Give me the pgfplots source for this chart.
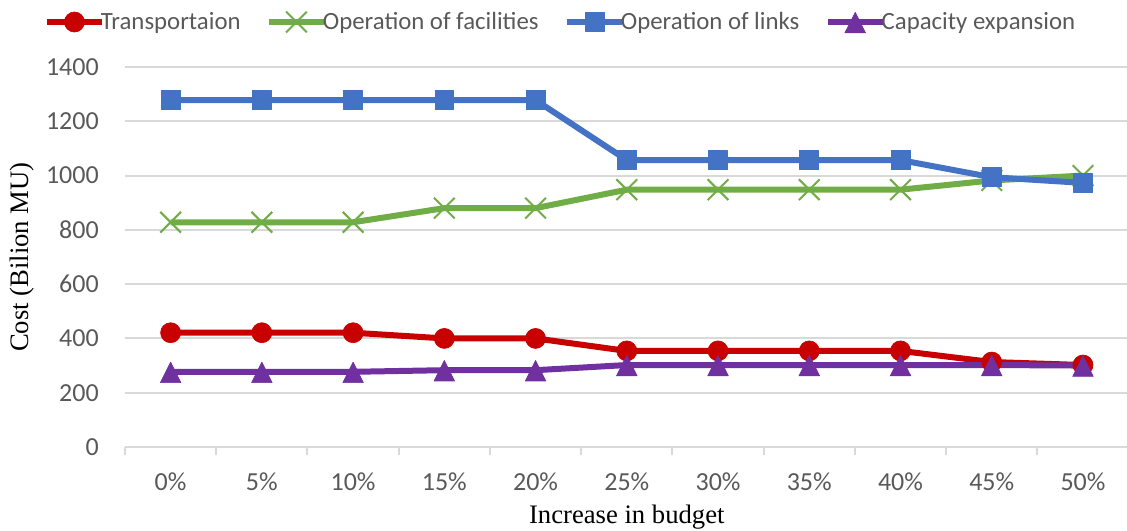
\documentclass[border=0pt]{standalone}
\usepackage{fontspec}
\setmainfont{Liberation Serif}
\newfontfamily\calibri{Carlito}
\usepackage{pgfplots}
\pgfplotsset{compat=1.18}

\definecolor{cRed}{HTML}{C80000}
\definecolor{cGreen}{HTML}{70AD47}
\definecolor{cBlue}{HTML}{4472C4}
\definecolor{cPurple}{HTML}{7030A0}
\definecolor{gridgray}{HTML}{D9D9D9}
\definecolor{tickgray}{HTML}{595959}

\begin{document}
\begin{tikzpicture}[x=1pt,y=1pt]
\useasboundingbox (0,0) rectangle (845.25,398.25);
\begin{axis}[
  at={(93.75pt,63pt)}, anchor=south west,
  scale only axis, width=752.7pt, height=285pt,
  xmin=-0.5, xmax=10.5, ymin=0, ymax=1400,
  ytick={0,200,...,1400},
  xtick={0,...,10},
  xticklabels={0\%,5\%,10\%,15\%,20\%,25\%,30\%,35\%,40\%,45\%,50\%},
  minor xtick={-0.5,0.5,...,10.5},
  xtick pos=bottom, ytick pos=left,
  tick align=outside,
  major tick length=0pt,
  minor tick length=6pt,
  minor x tick style={draw=gridgray, line width=1.5pt},
  axis line style={draw=none},
  ymajorgrids,
  major grid style={draw=gridgray, line width=1.5pt},
  /pgf/number format/assume math mode=true,
  /pgf/number format/1000 sep={},
  yticklabel style={font=\calibri\fontsize{19.5}{20}\selectfont, text=tickgray,
    anchor=east, inner sep=0pt, xshift=-19.5pt},
  xticklabel style={font=\calibri\fontsize{19.5}{20}\selectfont, text=tickgray,
    anchor=center, inner sep=0pt, yshift=-26pt},
  xlabel={Increase in budget},
  xlabel style={at={(axis description cs:0.5,-0.184)}, anchor=center,
    font=\fontsize{20}{22}\selectfont},
  ylabel={Cost (Bilion MU)},
  ylabel style={at={(axis description cs:-0.1026,0.5)}, anchor=center,
    font=\fontsize{20}{22}\selectfont},
  legend columns=4,
  legend style={at={(axis description cs:-0.081,1.1184)}, anchor=west,
    draw=none, fill=none, inner sep=0pt,
    font=\calibri\fontsize{18.6}{20}\selectfont, text=tickgray,
    nodes={inner sep=1pt},
    /tikz/every odd column/.append style={column sep=-4pt},
    /tikz/every even column/.append style={column sep=18pt}},
  legend image code/.code={%
    \draw[mark repeat=2,mark phase=2] plot coordinates {(0pt,0pt)(20.6pt,0pt)(41.2pt,0pt)};},
  every axis plot/.append style={line width=4.5pt, line join=round},
]
% Transportation cost
\addplot[cRed, mark=*, mark size=7.5pt, mark options={line width=0.5pt, fill=cRed}]
  coordinates {(0,421)(1,421)(2,421)(3,400)(4,400)(5,354)(6,354)(7,354)(8,354)(9,313)(10,302)};
\addlegendentry{Transportaion}
% Facility operation cost
\addplot[cGreen, mark=x, mark size=11pt, mark options={line width=1.5pt}]
  coordinates {(0,828)(1,828)(2,828)(3,880)(4,880)(5,948)(6,948)(7,948)(8,948)(9,982)(10,1000)};
\addlegendentry{Operation of facilities}
% Link operation cost
\addplot[cBlue, mark=square*, mark size=7.1pt, mark options={line width=0.5pt, fill=cBlue}]
  coordinates {(0,1278)(1,1278)(2,1278)(3,1278)(4,1278)(5,1057)(6,1057)(7,1057)(8,1057)(9,994)(10,973)};
\addlegendentry{Operation of links}
% Capacity expansion cost
\addplot[cPurple, mark=triangle*, mark size=8.9pt,
  mark options={line width=0.5pt, fill=cPurple, yscale=1.15, yshift=-2.6pt}]
  coordinates {(0,277)(1,277)(2,277)(3,283)(4,283)(5,302)(6,302)(7,302)(8,302)(9,302)(10,300)};
\addlegendentry{Capacity expansion}
\end{axis}
\end{tikzpicture}
\end{document}
